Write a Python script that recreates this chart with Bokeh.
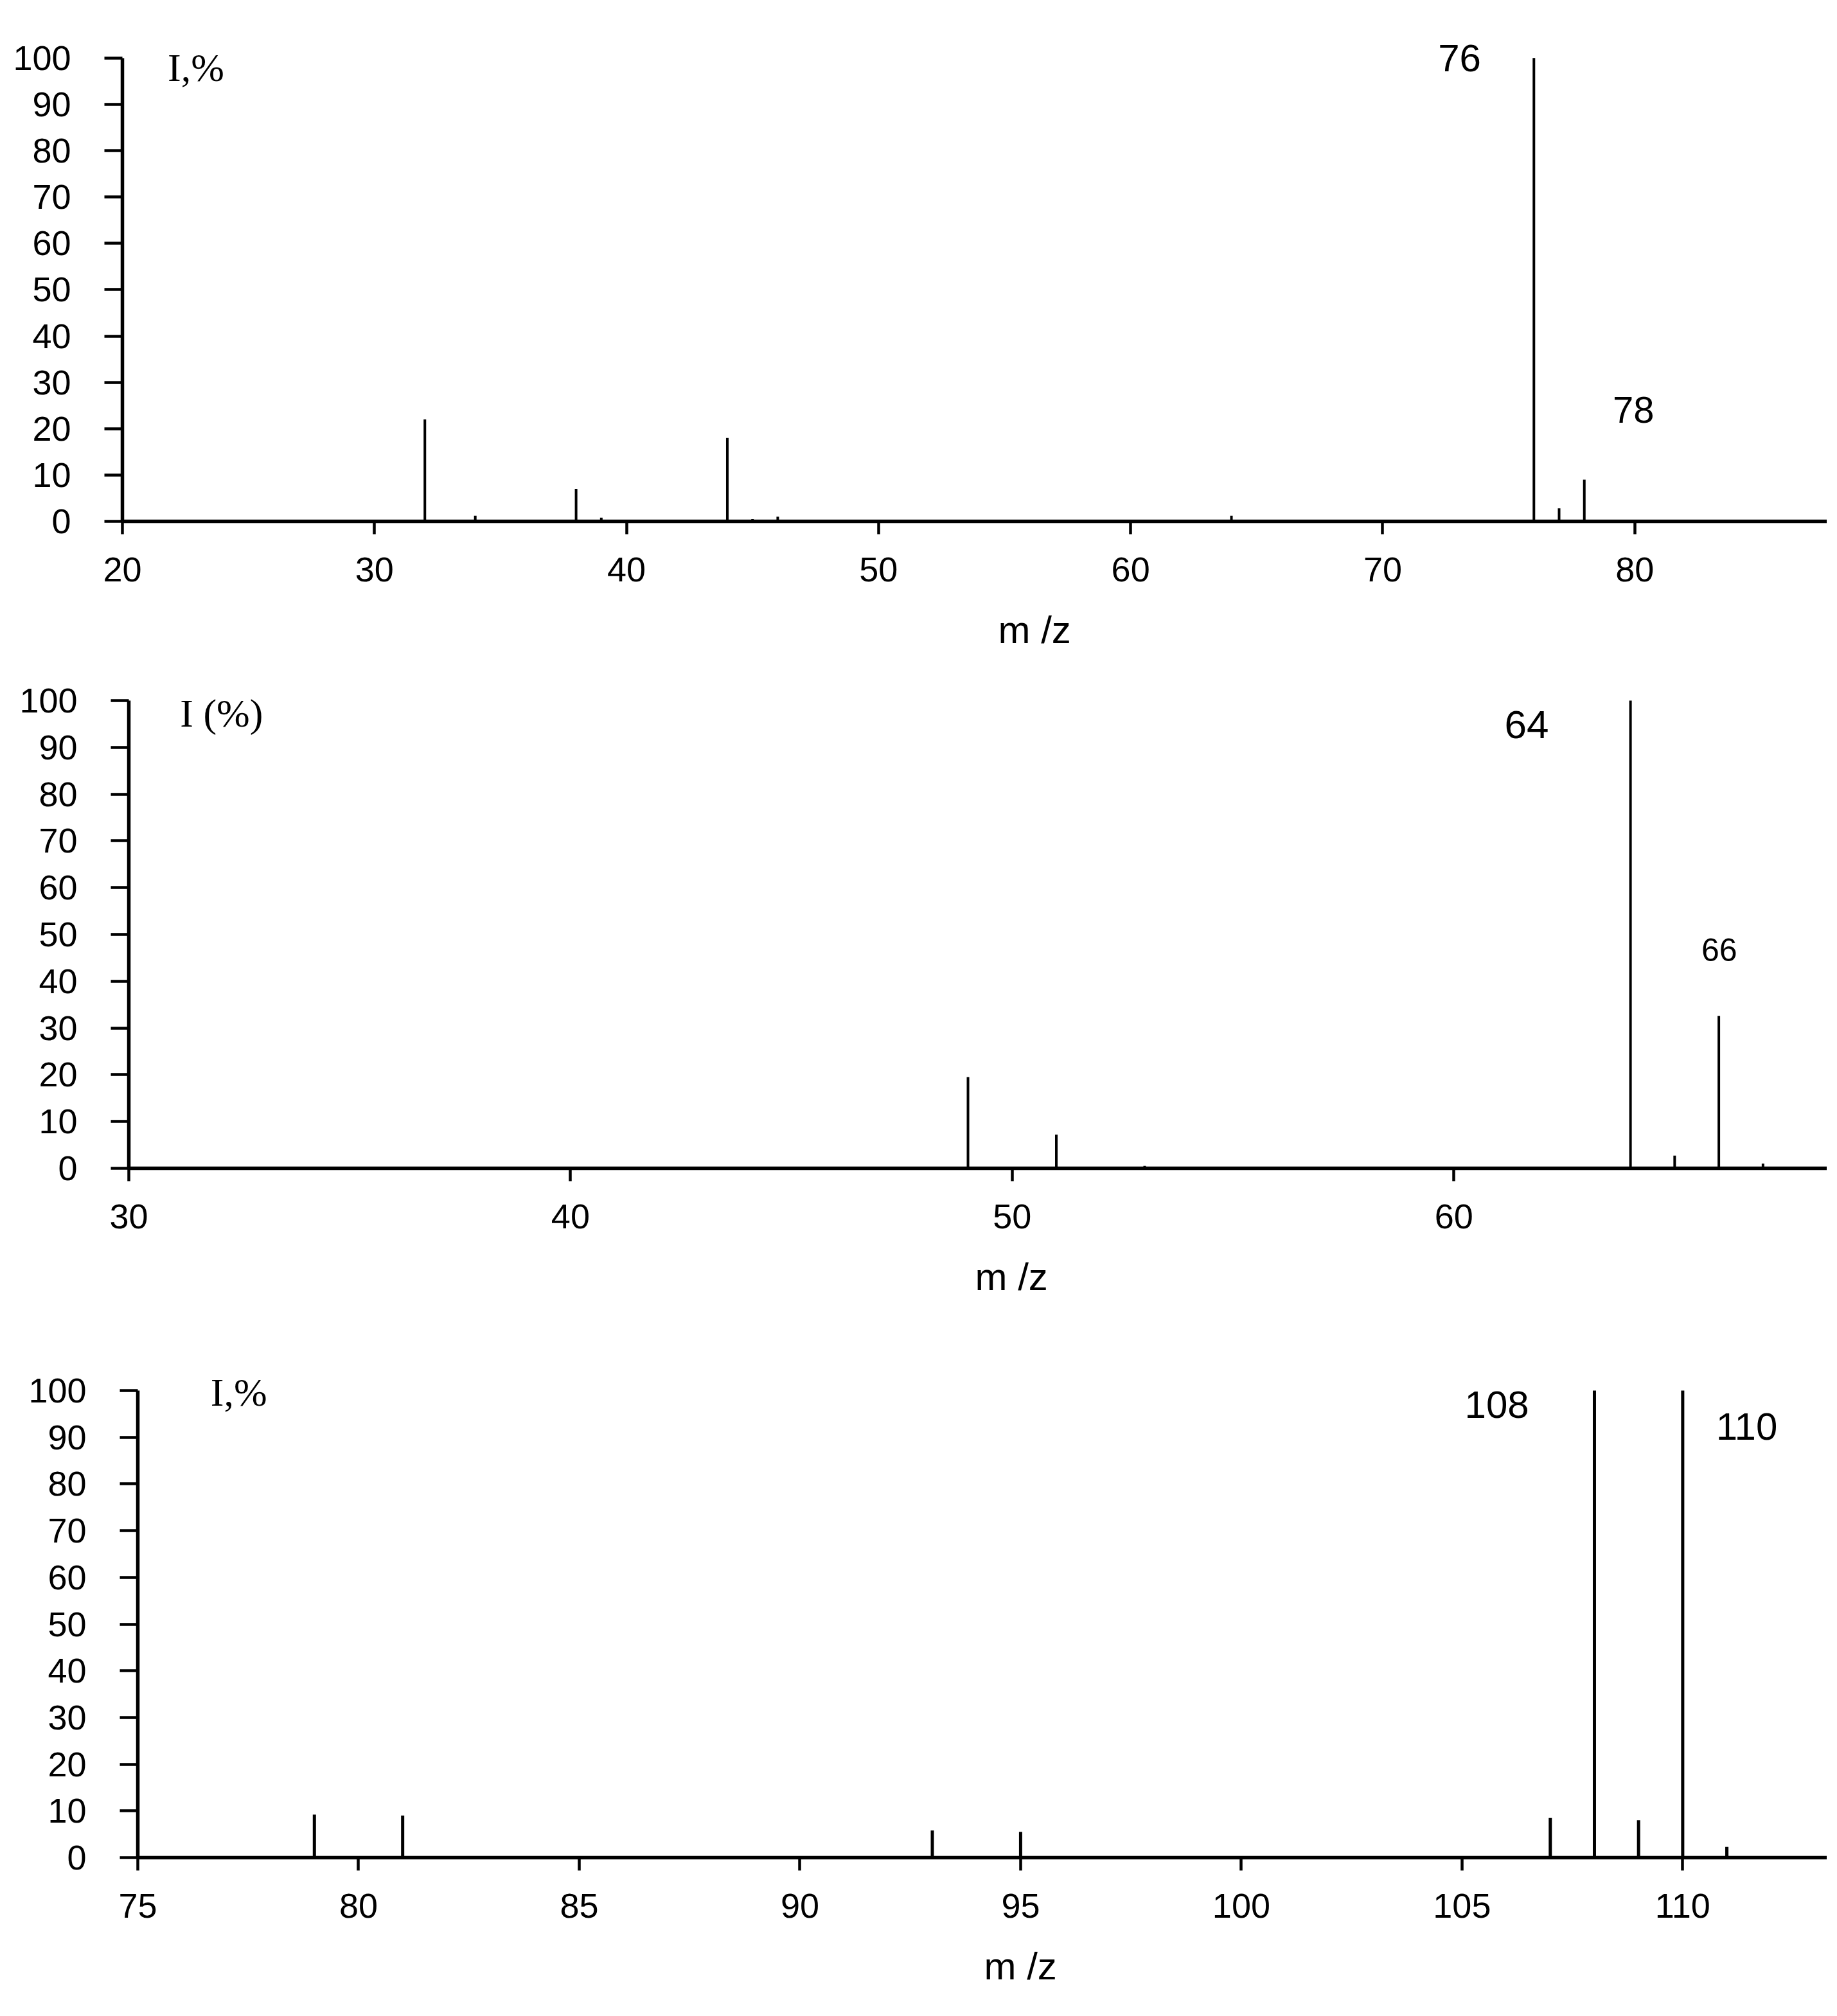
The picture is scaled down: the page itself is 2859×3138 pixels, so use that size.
from bokeh.plotting import figure
from bokeh.models import Range1d, FixedTicker, Label, ColumnDataSource, Title
from bokeh.embed import file_html
from bokeh.resources import INLINE

# ---- data ----
top_mz = [32, 34, 38, 39, 44, 45, 46, 64, 76, 77, 78]
top_int = [22, 1.2, 7, 0.8, 18, 0.5, 1, 1.2, 100, 2.8, 9]
top_ticks = [20, 30, 40, 50, 60, 70, 80]

mid_mz = [49, 51, 53, 64, 65, 66, 67]
mid_int = [19.5, 7.2, 0.5, 100, 2.7, 32.6, 1]
mid_ticks = [30, 40, 50, 60]

bot_mz = [79, 81, 93, 95, 107, 108, 109, 110, 111]
bot_int = [9.2, 9, 5.8, 5.5, 8.5, 100, 8, 100, 2.3]
bot_ticks = [75, 80, 85, 90, 95, 100, 105, 110]

y_ticks = [0, 10, 20, 30, 40, 50, 60, 70, 80, 90, 100]

SANS = "Liberation Sans"
SERIF = "Liberation Serif"
W = 2843
YTOP = 104


def panel(mz, inten, xticks, xr, height, top, left, bottom, lw,
          ylabel_text, ylabel_pos, peak_labels, mz_offset):
    p = figure(width=W, height=height, output_backend="svg",
               toolbar_location=None, x_range=Range1d(*xr),
               y_range=Range1d(0, YTOP),
               min_border_top=top, min_border_left=left,
               min_border_bottom=bottom, min_border_right=0)
    p.outline_line_color = None
    p.xgrid.visible = False
    p.ygrid.visible = False
    p.background_fill_color = "white"
    p.border_fill_color = "white"
    src = ColumnDataSource(dict(x=mz, y0=[0] * len(mz), y1=inten))
    p.segment(x0="x", y0="y0", x1="x", y1="y1", source=src,
              line_color="black", line_width=lw)
    for ax in (p.xaxis[0], p.yaxis[0]):
        ax.axis_line_width = 5.5
        ax.axis_line_color = "black"
        ax.major_tick_line_width = 4.5
        ax.major_tick_line_color = "black"
        ax.major_tick_in = 0
        ax.minor_tick_line_color = None
        ax.major_label_text_font = SANS
        ax.major_label_text_font_size = "54px"
        ax.major_label_text_color = "black"
    p.xaxis.ticker = FixedTicker(ticks=xticks)
    p.yaxis.ticker = FixedTicker(ticks=y_ticks)
    p.yaxis.bounds = (0, 100)
    p.xaxis.major_tick_out = 20
    p.yaxis.major_tick_out = 28
    p.xaxis.major_label_standoff = 36
    p.yaxis.major_label_standoff = 52

    p.add_layout(Label(x=ylabel_pos[0], y=ylabel_pos[1], text=ylabel_text,
                       text_font=SERIF, text_font_size="62px",
                       text_baseline="middle", text_align="left",
                       text_color="black"))
    for (tx, ty, txt, fs) in peak_labels:
        p.add_layout(Label(x=tx, y=ty, text=txt, text_font=SANS,
                           text_font_size=fs, text_align="center",
                           text_baseline="middle", text_color="black"))
    p.add_layout(Title(text="m /z", align="left", offset=mz_offset,
                       text_font=SANS, text_font_size="60px",
                       text_font_style="normal", text_color="black",
                       standoff=74), "below")
    return p


# top panel: figure spans page y 0..1050
p1 = panel(top_mz, top_int, top_ticks, (20, 87.63), 1050, 61, 190, 230, 4,
           "I,%", (21.8, 98.0),
           [(73.05, 100, "76", "60px"), (79.95, 24.1, "78", "58px")],
           1363)
# middle panel: page y 1050..2080
p2 = panel(mid_mz, mid_int, mid_ticks, (30, 68.45), 1030, 11, 200, 262, 4,
           "I (%)", (31.16, 97.3),
           [(61.65, 94.9, "64", "62px"), (66.01, 46.7, "66", "50px")],
           1317)
# bottom panel: page y 2080..3130
p3 = panel(bot_mz, bot_int, bot_ticks, (75, 113.27), 1050, 55, 214, 236, 5,
           "I,%", (76.65, 99.7),
           [(105.79, 97.0, "108", "60px"), (111.45, 92.3, "110", "60px")],
           1317)

open("out.html", "w").write(file_html([p1, p2, p3], INLINE))
